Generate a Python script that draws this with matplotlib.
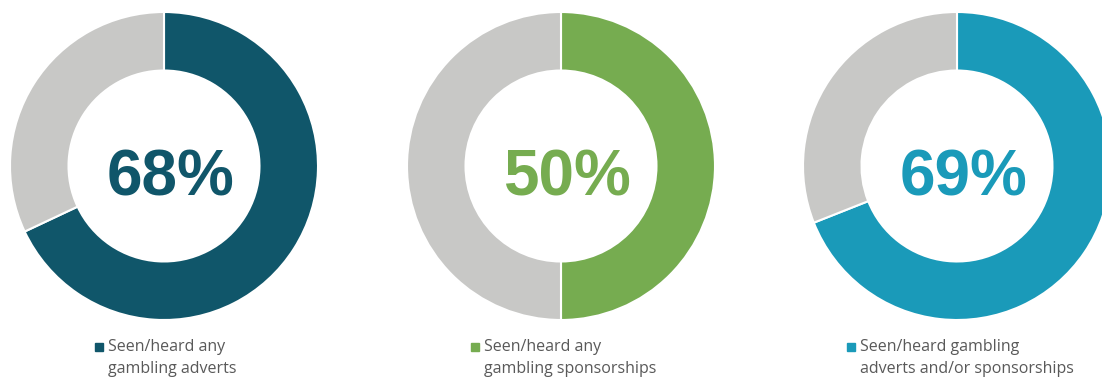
import matplotlib.pyplot as plt
from matplotlib.patches import Rectangle

values = [68, 50, 69]
labels = ["68%", "50%", "69%"]
legend_texts = ["Seen/heard any\ngambling adverts",
                "Seen/heard any\ngambling sponsorships",
                "Seen/heard gambling\nadverts and/or sponsorships"]
colors = ["#10566A", "#76AC50", "#1A9AB9"]
rest_color = "#C8C8C6"

W, H = 1102, 379
fig = plt.figure(figsize=(W/100, H/100), dpi=100)

centers_x = [164, 561, 957]
cy = 166
R = 154
legend_sq_x = [95, 471, 847]

for i, v in enumerate(values):
    cx = centers_x[i]
    ax = fig.add_axes([(cx - R) / W, 1 - (cy + R) / H, 2 * R / W, 2 * R / H])
    ax.pie([v, 100 - v], colors=[colors[i], rest_color], startangle=90,
           counterclock=False, radius=1.0,
           wedgeprops=dict(width=0.38, edgecolor="white", linewidth=1.5))
    ax.set_xlim(-1, 1); ax.set_ylim(-1, 1)
    ax.set_aspect("equal")
    ax.axis("off")
    ax.text(0.04, -0.08, labels[i], ha="center", va="center", fontsize=46,
            fontweight="bold", color=colors[i], family="Liberation Sans")
    # legend
    sx = legend_sq_x[i]
    fig.patches.append(Rectangle((sx / W, 1 - 351 / H), 8 / W, 8 / H,
                                 transform=fig.transFigure, color=colors[i]))
    fig.text((sx + 13) / W, 1 - 358 / H, legend_texts[i], ha="left", va="center",
             fontsize=11.5, color="#595959", family="Open Sans", linespacing=1.5)

fig.savefig("out.png", dpi=100)
